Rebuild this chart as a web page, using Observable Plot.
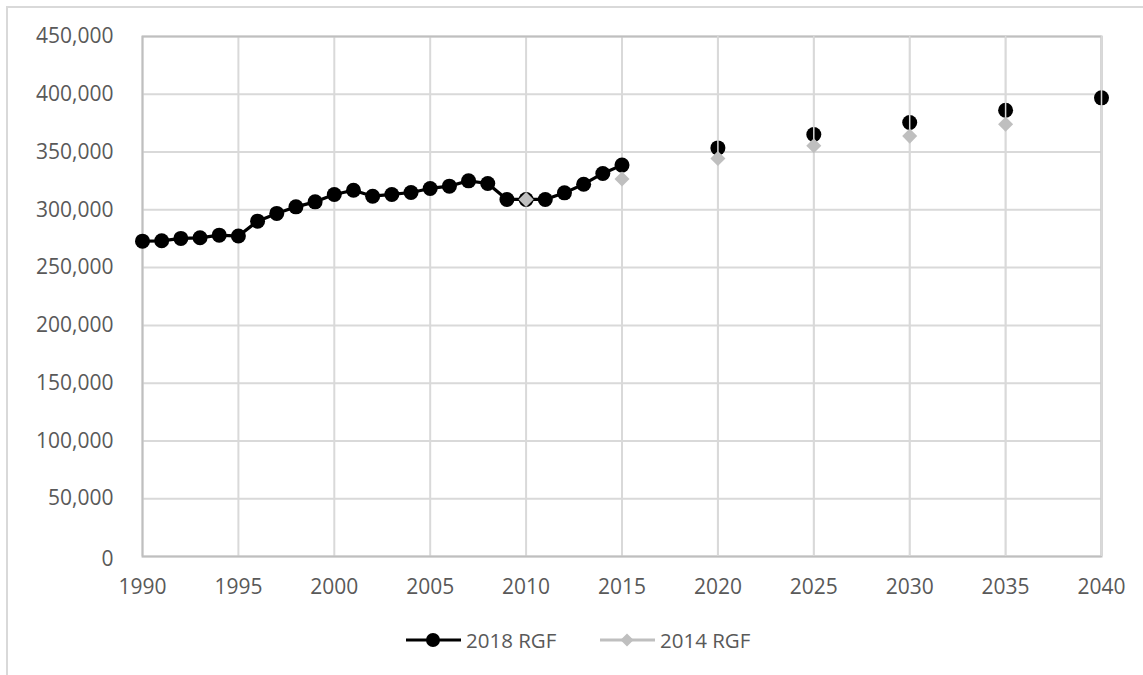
<!DOCTYPE html>
<html>
<head>
<meta charset="utf-8">
<script src="https://cdn.jsdelivr.net/npm/d3@7"></script>
<script src="https://cdn.jsdelivr.net/npm/@observablehq/plot@0.6"></script>
<style>
  html, body { margin: 0; padding: 0; background: #fff; }
  body { width: 1143px; height: 675px; overflow: hidden; font-family: "Open Sans", sans-serif; }
  #wrap { position: relative; width: 1143px; height: 675px; }
  #border { position: absolute; left: 6px; top: 6px; width: 1200px; height: 800px; border-left: 2px solid #d9d9d9; border-top: 2px solid #d9d9d9; }
  #chart { position: absolute; left: 0; top: 0; }
  .leg { position: absolute; top: 628px; height: 24px; display: flex; align-items: center; font-size: 20.5px; color: #595959; }
  .leg svg { display: block; margin-right: 5px; }
</style>
</head>
<body>
<div id="wrap">
  <div id="border"></div>
  <div id="chart"></div>
  <div class="leg" style="left:406px">
    <svg width="55" height="24"><line x1="0" x2="55" y1="12" y2="12" stroke="#000" stroke-width="3"/><circle cx="27" cy="12" r="7" fill="#000"/></svg>
    <span>2018 RGF</span>
  </div>
  <div class="leg" style="left:600px">
    <svg width="55" height="24"><line x1="0" x2="55" y1="12" y2="12" stroke="#bfbfbf" stroke-width="3"/><path d="M27,5.5L33.5,12L27,18.5L20.5,12Z" fill="#bfbfbf"/></svg>
    <span>2014 RGF</span>
  </div>
</div>
<script>
// Historical annual values, 2018 RGF
const histYears = [1990,1991,1992,1993,1994,1995,1996,1997,1998,1999,2000,2001,2002,2003,2004,2005,2006,2007,2008,2009,2010,2011,2012,2013,2014,2015];
const rgf2018Hist = [272900,273200,275300,275800,278100,277300,290200,296900,302600,306900,313300,317000,311800,313300,315000,318500,320500,325100,322800,309000,309000,309000,314700,322200,331500,338700];
// Projections, 2018 RGF
const projYears = [2020,2025,2030,2035,2040];
const rgf2018Proj = [353600,365200,375600,386200,396900];
// 2014 RGF
const rgf2014Years = [2010,2015,2020,2025,2030,2035];
const rgf2014 = [309000,326600,344400,355400,363800,374100];
// Axis ticks
const xTicks = [1990,1995,2000,2005,2010,2015,2020,2025,2030,2035,2040];
const yTicks = [0,50000,100000,150000,200000,250000,300000,350000,400000,450000];

const hist = histYears.map((year, i) => ({year, value: rgf2018Hist[i]}));
const proj = projYears.map((year, i) => ({year, value: rgf2018Proj[i]}));
const all2018 = hist.concat(proj);
const old = rgf2014Years.map((year, i) => ({year, value: rgf2014[i]}));

const chart = Plot.plot({
  width: 1143,
  height: 620,
  marginTop: 36,
  marginBottom: 64,
  marginLeft: 142,
  marginRight: 42,
  style: {fontFamily: "'Open Sans', sans-serif", fontSize: "21px", color: "#595959", background: "transparent", overflow: "visible"},
  x: {domain: [1990, 2040], ticks: xTicks, tickFormat: d => String(d), tickSize: 0, tickPadding: 23, label: null},
  y: {domain: [0, 450000], ticks: yTicks, tickFormat: d3.format(","), tickSize: 0, tickPadding: 29, label: null},
  marks: [
    Plot.gridY(yTicks, {stroke: "#d9d9d9", strokeOpacity: 1, strokeWidth: 2}),
    Plot.gridX(xTicks, {stroke: "#d9d9d9", strokeOpacity: 1, strokeWidth: 2}),
    Plot.frame({stroke: "#bfbfbf", strokeWidth: 2}),
    Plot.line(hist, {x: "year", y: "value", stroke: "#000", strokeWidth: 3.2}),
    Plot.dot(all2018, {x: "year", y: "value", r: 7.5, fill: "#000"}),
    Plot.ruleX(projYears, {stroke: "#d9d9d9", strokeWidth: 1.5}),
    Plot.dot(old, {x: "year", y: "value", symbol: "square", rotate: 45, r: 6, fill: "#bfbfbf"})
  ]
});
document.getElementById("chart").appendChild(chart);

// The "0" tick label in the original sits a little low and is cut off at its bottom
const ns = "http://www.w3.org/2000/svg";
const yLabels = chart.querySelectorAll('g[aria-label="y-axis tick label"] text');
yLabels.forEach(t => {
  if (t.textContent === "0") {
    let defs = chart.querySelector("defs");
    if (!defs) { defs = document.createElementNS(ns, "defs"); chart.insertBefore(defs, chart.firstChild); }
    const cp = document.createElementNS(ns, "clipPath");
    cp.setAttribute("id", "zeroclip");
    const rect = document.createElementNS(ns, "rect");
    rect.setAttribute("x", "-100"); rect.setAttribute("y", "-40");
    rect.setAttribute("width", "100"); rect.setAttribute("height", "51");
    cp.appendChild(rect); defs.appendChild(cp);
    t.setAttribute("y", "9");
    t.setAttribute("clip-path", "url(#zeroclip)");
  }
});
</script>
</body>
</html>
